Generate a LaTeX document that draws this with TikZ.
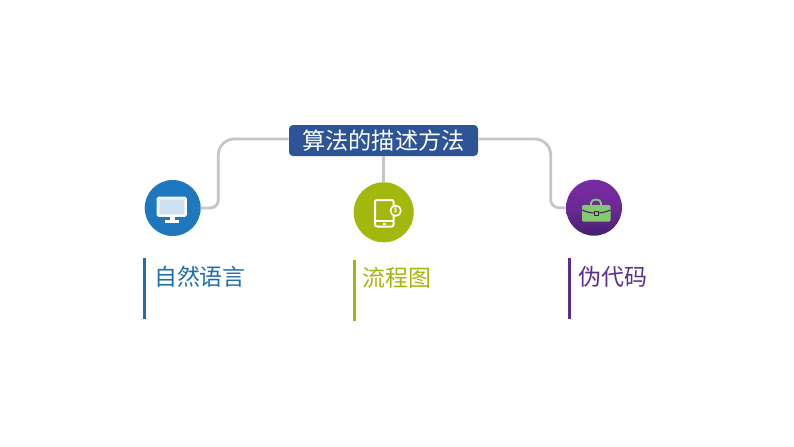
\documentclass[tikz,border=0pt]{standalone}
\usepackage{fontspec}
\setmainfont{Noto Sans CJK SC}
\usetikzlibrary{calc}
\definecolor{titleblue}{HTML}{2C5496}
\definecolor{monblue}{HTML}{1F78BE}
\definecolor{leafgreen}{HTML}{A2B80C}
\definecolor{purptop}{HTML}{7A2BA3}
\definecolor{purpbot}{HTML}{44206F}
\definecolor{casegreen}{HTML}{84C96E}
\definecolor{linkgray}{HTML}{C6C6C6}
\definecolor{labelblue}{HTML}{1F6FA8}
\definecolor{labelpurple}{HTML}{5C2D91}
\tikzset{
  x=0.75pt,y=-0.75pt,
  titlebox/.style={fill=titleblue,rounded corners=3pt,minimum width=141.75pt,minimum height=23.25pt,inner sep=0pt,text=white,font=\fontsize{17.4}{19}\selectfont},
  badge/.style={circle,inner sep=0pt,minimum size=#1},
  link/.style={draw=linkgray,line width=2.1pt},
  label/.style={anchor=west,inner sep=0pt,font=\fontsize{17.2}{19}\selectfont},
  bar/.style={line width=2pt},
}
\begin{document}
\begin{tikzpicture}
\useasboundingbox (0,0) rectangle (794,447);
\fill[white] (0,0) rectangle (794,447);
\node[titlebox] (title) at (383.5,140.5) {\raisebox{-0.7pt}{算法的描述方法}};
\node[badge=42pt,fill=monblue] (pc) at (172.7,208) {};
\node[badge=45pt,fill=leafgreen] (pad) at (383.7,212.3) {};
\node[badge=42pt,top color=purptop,bottom color=purpbot,middle color=purptop!75!purpbot] (bag) at (594,207.7) {};
% connectors
\coordinate (elbowLa) at (218.3,139);
\coordinate (elbowLb) at (218.3,208);
\coordinate (elbowRa) at (550.7,139);
\coordinate (elbowRb) at (550.7,207.7);
\draw[link] (elbowLa -| title.west) [rounded corners=12pt] -- (elbowLa) [rounded corners=6pt] -- (elbowLb) -- (pc.east);
\draw[link] (elbowRa -| title.east) [rounded corners=12pt] -- (elbowRa) [rounded corners=6pt] -- (elbowRb) -- (bag.west);
\draw[link] (title.south -| pad.north) -- (pad.north);
% monitor icon
\draw[white,line width=1.3pt,fill=white!88!monblue,rounded corners=1pt] (157.5,197.5) rectangle (186,216);
\fill[white!78!monblue] (160,200) rectangle (183.5,213.5);
\fill[white] (169.5,216) rectangle (174.5,220.5);
\fill[white] (165,220.3) rectangle (179,222.5);
% tablet icon
\draw[white,line width=1.5pt,rounded corners=1.5pt] (375,200) rectangle (393.5,226.5);
\draw[white,line width=1.2pt] (375,221) -- (393.5,221);
\fill[white] (382.5,222.7) rectangle (386,224.8);
\filldraw[fill=leafgreen,draw=white,line width=1.2pt] (395.7,210.7) circle (5.2);
\node[inner sep=0pt,text=white,font=\fontsize{4.5}{5}\selectfont\bfseries] (dollar) at (395.7,210.7) {\$};
% briefcase icon
\draw[casegreen,line width=1.4pt] (591,205) -- (591,203) arc[start angle=180,end angle=0,x radius=5,y radius=-3.5] -- (601,205);
\fill[casegreen,rounded corners=1pt] (582,205) rectangle (610.5,221.7);
\draw[purpbot,line width=0.8pt] (582,210) .. controls (590,214) and (602,214) .. (610.5,210);
\fill[purpbot] (594,210.5) rectangle (598.5,216);
\fill[casegreen] (595,211.5) rectangle (597.5,215);
% labels
\draw[bar,draw=labelblue] (144.8,258) -- (144.8,319);
\node[label,text=labelblue] (t1) at (153.8,277) {自然语言};
\draw[bar,draw=leafgreen] (354.5,260) -- (354.5,321);
\node[label,text=leafgreen] (t2) at (362,277.5) {流程图};
\draw[bar,draw=labelpurple] (569.5,258) -- (569.5,319);
\node[label,text=labelpurple] (t3) at (578,277) {伪代码};
\end{tikzpicture}
\end{document}
